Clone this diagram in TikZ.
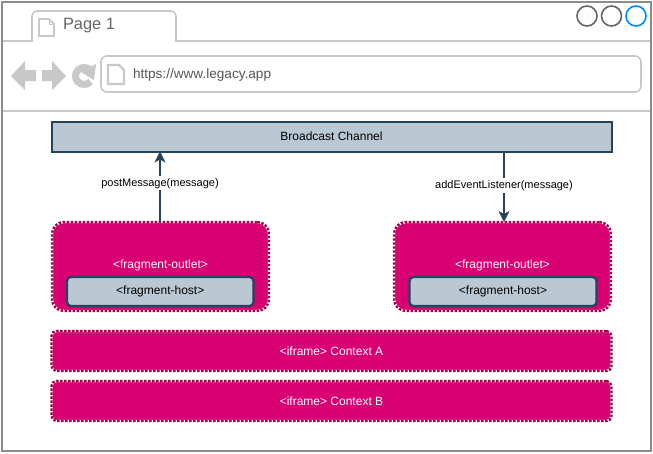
\documentclass[tikz,border=0pt]{standalone}
\usepackage{fontspec}
\setmainfont{Liberation Sans}
\usetikzlibrary{arrows.meta}
\definecolor{frameg}{HTML}{666666}
\definecolor{lineg}{HTML}{C8C8C8}
\definecolor{blueb}{HTML}{008CFF}
\definecolor{slatef}{HTML}{BAC8D3}
\definecolor{slated}{HTML}{23445D}
\definecolor{pinkf}{HTML}{D80073}
\definecolor{pinkd}{HTML}{A50040}
\tikzset{
  x=1pt,y=-1pt,
  every node/.style={font=\fontsize{12}{14}\selectfont,inner sep=0pt,outer sep=0pt},
  slatebox/.style={draw=slated,fill=slatef,line width=2pt,minimum width=#1,anchor=north west},
  pinkbox/.style={draw=white,fill=pinkf,line width=2.4pt,postaction={draw=pinkd,line width=2.4pt,dash pattern=on 2.4pt off 1.6pt},anchor=north west,minimum width=#1,text=white},
  hostbox/.style={slatebox=#1,draw=slated,rounded corners=4pt,line width=2.2pt,minimum height=29pt,text=black},
  wire/.style={draw=slated,line width=1.8pt,-{Stealth[length=11pt,width=11pt,inset=3pt]}},
  lbl/.style={fill=white,inner xsep=1pt,inner ysep=2pt,font=\fontsize{11}{13}\selectfont},
  grayline/.style={draw=lineg,line width=1.6pt},
  iconf/.style={fill=lineg,draw=none},
  winbtn/.style={circle,draw=#1,line width=1.6pt,fill=none,minimum size=20pt}
}
\begin{document}
\begin{tikzpicture}
\useasboundingbox (0,0) rectangle (653,453);
\fill[white] (0,0) rectangle (653,453);
% browser chrome
\draw[grayline] (2,41) -- (32,41) [rounded corners=5pt] -- (32,11) -- (176,11) [sharp corners] -- (176,41) -- (651,41);
\draw[grayline] (2,111) -- (651,111);
\draw[grayline,rounded corners=6pt] (101,56) rectangle (641,92);
% tab icon
\draw[grayline,line join=miter] (39,19) -- (49,19) -- (54,24) -- (54,36) -- (39,36) -- cycle;
\draw[draw=lineg,line width=1pt] (49,19) -- (49,24) -- (54,24);
% address icon
\draw[draw=lineg,line width=2.4pt] (108,65) -- (119,65) -- (124,70) -- (124,84) -- (108,84) -- cycle;
% nav arrows
\path[iconf] (11,76) -- (25,61) -- (25,70) -- (36,70) -- (36,81) -- (25,81) -- (25,90) -- cycle;
\path[iconf] (66,76) -- (52,61) -- (52,70) -- (42,70) -- (42,81) -- (52,81) -- (52,90) -- cycle;
% reload
\draw[draw=lineg,line width=7pt] (84,76) ++(-40:8.5) arc[start angle=-40,end angle=-320,radius=8.5];
\path[iconf] (96,64) -- (94,80) -- (81,72) -- cycle;
\node (tabtext) at (89,26) {\fontsize{16.4}{19}\selectfont\color{frameg}Page 1};
\node[anchor=west] (url) at (133,75) {\fontsize{13.6}{16}\selectfont\color[HTML]{555555}https://www.legacy.app};
% window buttons
\node[winbtn=frameg] (b1) at (587,16) {};
\node[winbtn=frameg] (b2) at (611.5,16) {};
\node[winbtn=blueb] (b3) at (636,16) {};
% diagram
\node[slatebox=560pt,minimum height=30pt] (bc) at (51.5,121.5) {Broadcast Channel};
\node[pinkbox=217pt,minimum height=89pt,rounded corners=12pt] (outA) at (52,222) {};
\node[pinkbox=217pt,minimum height=89pt,rounded corners=12pt] (outB) at (394,222) {};
\node[text=white] (outAt) at (160.5,265.5) {<fragment-outlet>};
\node[text=white] (outBt) at (502.5,265.5) {<fragment-outlet>};
\node[hostbox=186.5pt] (hostA) at (67,277) {<fragment-host>};
\node[hostbox=187pt] (hostB) at (409.5,277) {<fragment-host>};
\node[pinkbox=560pt,minimum height=40pt,rounded corners=5pt] (ctxA) at (51.5,331) {<iframe> Context A};
\node[pinkbox=560pt,minimum height=40pt,rounded corners=5pt] (ctxB) at (51.5,381) {<iframe> Context B};
% connectors
\coordinate (upS) at (160,222);
\coordinate (dnS) at (504,152);
\draw[wire] (upS) -- (upS |- bc.south) node[lbl,pos=0.55] (lblA) {postMessage(message)};
\draw[wire] (dnS) -- (dnS |- outB.north) node[lbl,pos=0.48] (lblB) {addEventListener(message)};
% outer frame
\draw[draw=frameg!75!white,line width=2pt] (2,2) rectangle (651,451);
\end{tikzpicture}
\end{document}
